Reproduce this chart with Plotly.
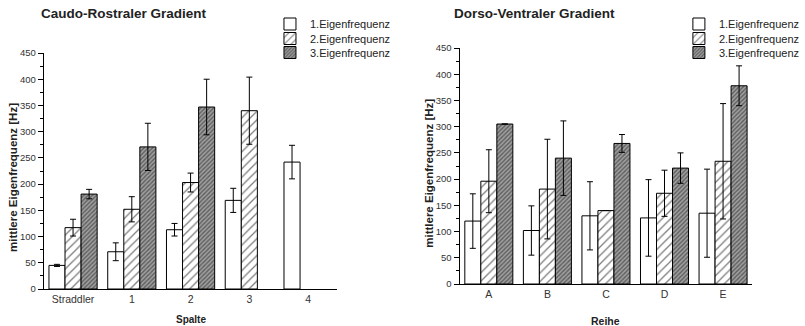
import plotly.graph_objects as go

# ---- data ----
spalte_cats = ["Straddler", "1", "2", "3", "4"]
spalte_e1 = [45, 71, 113, 169, 242]
spalte_e1_err = [2, 17, 12, 23, 32]
spalte_e2 = [117, 152, 203, 340, None]
spalte_e2_err = [16, 24, 18, 64, 0]
spalte_e3 = [181, 271, 347, None, None]
spalte_e3_err = [9, 45, 53, 0, 0]

reihe_cats = ["A", "B", "C", "D", "E"]
reihe_e1 = [120, 102, 130, 126, 135]
reihe_e1_err = [52, 47, 65, 73, 84]
reihe_e2 = [196, 181, 140, 173, 234]
reihe_e2_err = [60, 95, 0, 44, 110]
reihe_e3 = [305, 240, 268, 221, 378]
reihe_e3_err = [0, 71, 17, 29, 38]

series_names = ["1.Eigenfrequenz", "2.Eigenfrequenz", "3.Eigenfrequenz"]
y_ticks = [0, 50, 100, 150, 200, 250, 300, 350, 400, 450]

FONT = "Liberation Sans, Arial, sans-serif"
W, H = 805, 326

patterns = [
    dict(shape=""),
    dict(shape="/", fgcolor="black", bgcolor="white", size=6, solidity=0.22),
    dict(shape="/", fgcolor="#1a1a1a", bgcolor="#a0a0a0", size=3, solidity=0.45),
]

fig = go.Figure()

def px_x(p):
    return p / W

def px_y(p):
    return 1 - p / H

def add_group(cats, vals, errs, xa, ya, legends):
    for i, (v, e) in enumerate(zip(vals, errs)):
        fig.add_trace(go.Bar(
            x=cats, y=v, name=series_names[i],
            xaxis=xa, yaxis=ya, legend=legends[i],
            marker=dict(color="white", line=dict(color="black", width=1),
                        pattern=patterns[i]),
            error_y=dict(type="data", array=e, visible=True,
                         color="black", thickness=1, width=3),
        ))

add_group(spalte_cats, [spalte_e1, spalte_e2, spalte_e3],
          [spalte_e1_err, spalte_e2_err, spalte_e3_err], "x", "y",
          ["legend", "legend2", "legend3"])
add_group(reihe_cats, [reihe_e1, reihe_e2, reihe_e3],
          [reihe_e1_err, reihe_e2_err, reihe_e3_err], "x2", "y2",
          ["legend4", "legend5", "legend6"])

yax = dict(range=[0, 450], tickvals=y_ticks, ticks="outside", ticklen=5,
           tickwidth=1, tickcolor="black", showline=True, linecolor="black",
           linewidth=1, showgrid=False, zeroline=False,
           tickfont=dict(family=FONT, size=9.5, color="#333"),
           minor=dict(dtick=25, ticks="outside", ticklen=3, tickcolor="black",
                      showgrid=False),
           automargin=False)
xax = dict(showline=True, linecolor="black", linewidth=1, showgrid=False,
           ticks="", range=[-0.5, 4.5], type="category",
           tickfont=dict(family=FONT, size=10.5, color="#333"),
           automargin=False)

def leg(x, y):
    return dict(x=px_x(x), y=px_y(y), xanchor="left", yanchor="middle",
                bgcolor="rgba(0,0,0,0)", borderwidth=0,
                font=dict(family=FONT, size=11, color="#222"),
                itemwidth=30)

rows = [24, 38.5, 52.5]
layout_legends = {}
names = ["legend", "legend2", "legend3", "legend4", "legend5", "legend6"]
for k, r in enumerate(rows):
    layout_legends[names[k]] = leg(272, r)
    layout_legends[names[k + 3]] = leg(684, r)

fig.update_layout(
    width=W, height=H,
    margin=dict(l=0, r=0, t=0, b=0),
    paper_bgcolor="white", plot_bgcolor="white",
    barmode="group", bargap=0.18, bargroupgap=0,
    font=dict(family=FONT, color="#222"),
    xaxis=dict(xax, domain=[px_x(44), px_x(340)], anchor="y"),
    yaxis=dict(yax, domain=[px_y(289), px_y(53)], anchor="x"),
    xaxis2=dict(xax, domain=[px_x(463), px_x(758)], anchor="y2"),
    yaxis2=dict(yax, domain=[px_y(284), px_y(48)], anchor="x2"),
    showlegend=True,
    **layout_legends,
)

ann = dict(showarrow=False, xref="paper", yref="paper",
           xanchor="center", yanchor="middle")
fig.add_annotation(text="<b>Caudo-Rostraler Gradient</b>", x=px_x(125), y=px_y(14),
                   font=dict(family=FONT, size=13.5, color="#222"), **ann)
fig.add_annotation(text="<b>Dorso-Ventraler Gradient</b>", x=px_x(539), y=px_y(14),
                   font=dict(family=FONT, size=13.5, color="#222"), **ann)
fig.add_annotation(text="<b>Spalte</b>", x=px_x(192), y=px_y(319),
                   font=dict(family=FONT, size=10, color="#222"), **ann)
fig.add_annotation(text="<b>Reihe</b>", x=px_x(610), y=px_y(321),
                   font=dict(family=FONT, size=10.5, color="#222"), **ann)
fig.add_annotation(text="<b>mittlere Eigenfrequenz [Hz]</b>", x=px_x(13), y=px_y(177),
                   textangle=-90, font=dict(family=FONT, size=11.5, color="#222"), **ann)
fig.add_annotation(text="<b>mittlere Eigenfrequenz [Hz]</b>", x=px_x(432), y=px_y(173),
                   textangle=-90, font=dict(family=FONT, size=11.5, color="#222"), **ann)

fig.write_html("out.html")
